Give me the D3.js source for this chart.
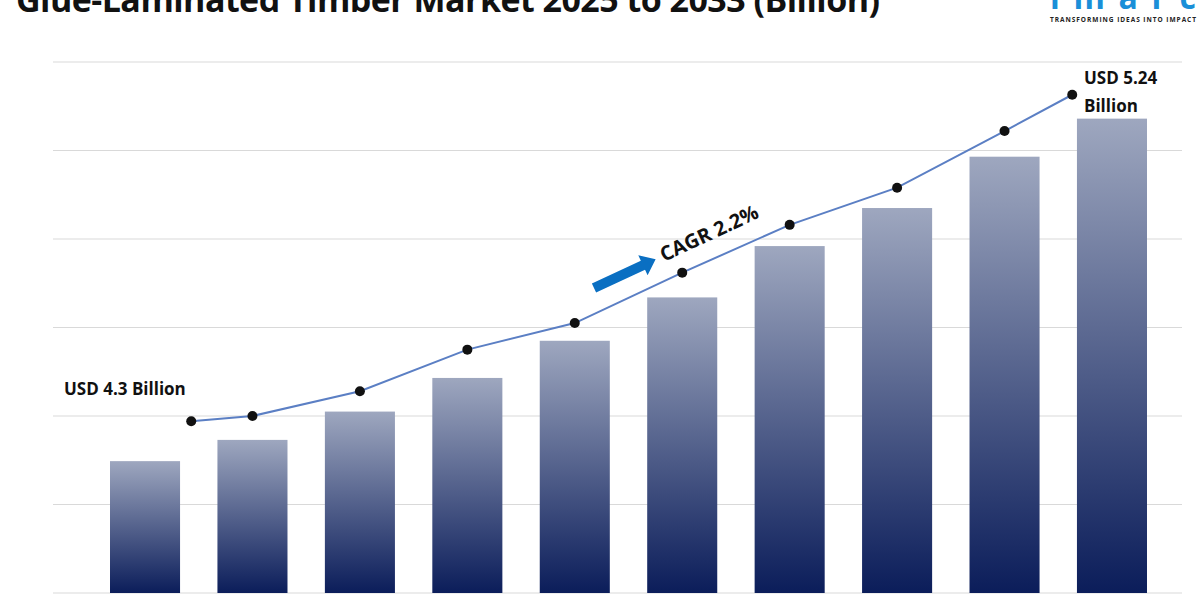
<!DOCTYPE html>
<html>
<head>
<meta charset="utf-8">
<script src="https://cdn.jsdelivr.net/npm/d3@7"></script>
<style>
  body { margin: 0; background: #fff; }
  text { font-family: "Open Sans", "Liberation Sans", sans-serif; }
</style>
</head>
<body>
<svg id="chart" width="1200" height="600"></svg>
<script>
"use strict";

var years = ["2025", "2026", "2027", "2028", "2029", "2030", "2031", "2032", "2033", "2034"];
var barValues = [1.49, 1.73, 2.05, 2.43, 2.85, 3.34, 3.92, 4.35, 4.93, 5.36];
var linePos = [0.43, 1, 2, 3, 4, 5, 6, 7, 8, 8.63];
var lineValues = [1.94, 2.0, 2.28, 2.75, 3.05, 3.62, 4.16, 4.58, 5.22, 5.63];
var gridTicks = [0, 1, 2, 3, 4, 5, 6];

(function () {
    var svg = d3.select("#chart");
    var left = 53, right = 1182, plotTop = 62, bottom = 593;

    var xScale = d3.scaleBand().domain(years).range([110, 1147]).paddingInner(0.348).paddingOuter(0);
    var xLin = d3.scaleLinear().domain([0, 9]).range([xScale(years[0]) + xScale.bandwidth() / 2,
        xScale(years[9]) + xScale.bandwidth() / 2]);
    var yScale = d3.scaleLinear().domain([0, 6]).range([bottom, plotTop]);

    var grad = svg.append("defs").append("linearGradient")
        .attr("id", "barGrad").attr("x1", 0).attr("y1", 0).attr("x2", 0).attr("y2", 1);
    grad.append("stop").attr("offset", "0%").attr("stop-color", "#9ea7bf");
    grad.append("stop").attr("offset", "100%").attr("stop-color", "#0b1d5a");

    // grid
    svg.append("g").selectAll("line").data(gridTicks).enter().append("line")
        .attr("x1", left).attr("x2", right)
        .attr("y1", d => yScale(d)).attr("y2", d => yScale(d))
        .attr("stroke", "#d9d9d9").attr("stroke-width", 1);

    // bars
    svg.append("g").selectAll("rect").data(barValues).enter().append("rect")
        .attr("x", (d, i) => xScale(years[i]))
        .attr("y", d => yScale(d))
        .attr("width", xScale.bandwidth())
        .attr("height", d => bottom - yScale(d))
        .attr("fill", "url(#barGrad)");

    // line
    var pts = lineValues.map((v, i) => [xLin(linePos[i]), yScale(v)]);
    svg.append("path").datum(pts)
        .attr("d", d3.line())
        .attr("fill", "none").attr("stroke", "#5b7fc4").attr("stroke-width", 2);
    svg.append("g").selectAll("circle").data(pts).enter().append("circle")
        .attr("cx", d => d[0]).attr("cy", d => d[1]).attr("r", 5).attr("fill", "#111");

    // labels
    svg.append("text").attr("x", 64).attr("y", 395)
        .attr("font-size", 17).attr("font-weight", "bold").attr("fill", "#111")
        .text("USD 4.3 Billion");
    svg.append("text").attr("x", 1084).attr("y", 84)
        .attr("font-size", 17).attr("font-weight", "bold").attr("fill", "#111")
        .text("USD 5.24");
    svg.append("text").attr("x", 1084).attr("y", 112)
        .attr("font-size", 17).attr("font-weight", "bold").attr("fill", "#111")
        .text("Billion");

    // CAGR arrow + label
    var arrow = svg.append("g").attr("transform", "translate(594,288) rotate(-25)");
    arrow.append("path")
        .attr("d", "M0,-5 L54,-5 L54,-11 L68,0 L54,11 L54,5 L0,5 Z")
        .attr("fill", "#0a6fc2");
    svg.append("text").attr("transform", "translate(664,262) rotate(-25)")
        .attr("font-size", 20).attr("font-weight", "bold").attr("fill", "#111")
        .text("CAGR 2.2%");

    // title (cropped at top)
    svg.append("text").attr("x", 16).attr("y", 12)
        .attr("font-family", "Liberation Sans Narrow, Liberation Sans, sans-serif")
        .attr("font-size", 34).attr("font-weight", "bold").attr("fill", "#111")
        .attr("textLength", 864)
        .text("Glue-Laminated Timber Market 2025 to 2033 (Billion)");

    // logo
    svg.append("text").attr("x", 1050).attr("y", 9)
        .attr("font-size", 32).attr("font-weight", "bold").attr("fill", "#1a8fd8")
        .attr("textLength", 146)
        .text("imarc");
    svg.append("text").attr("x", 1050).attr("y", 22)
        .attr("font-size", 6.5).attr("font-weight", "bold").attr("fill", "#222")
        .attr("textLength", 146)
        .text("TRANSFORMING IDEAS INTO IMPACT");
})();
</script>
</body>
</html>
